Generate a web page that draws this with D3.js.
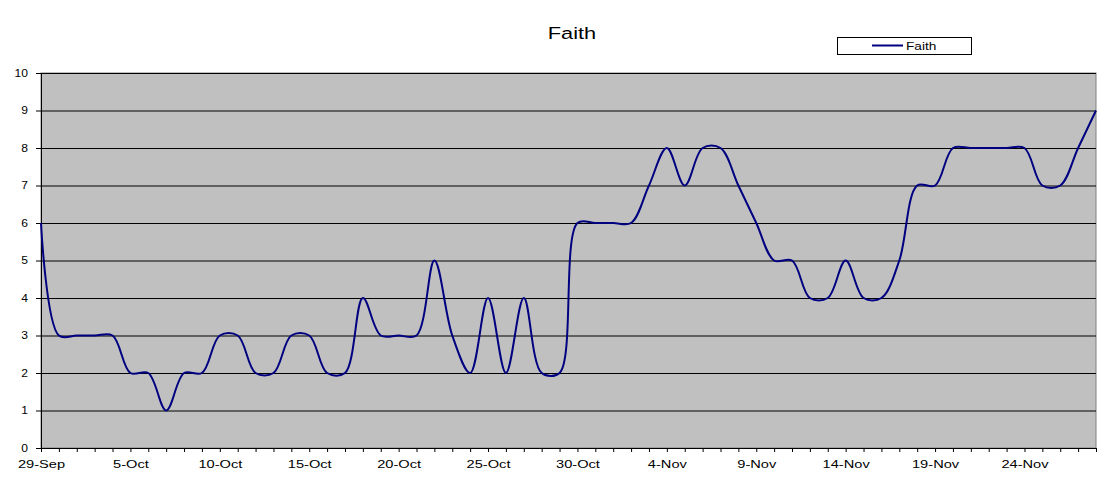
<!DOCTYPE html>
<html>
<head>
<meta charset="utf-8">
<script src="https://cdn.jsdelivr.net/npm/d3@7"></script>
<style>
  body { margin: 0; background: #fff; }
  text { font-family: "Liberation Sans", Arial, sans-serif; fill: #000; }
</style>
</head>
<body>
<svg id="chart"></svg>
<script>
// category dates (one point per day, 30-Sep missing in the source sheet)
const dates = [
  "29-Sep", "1-Oct", "2-Oct", "3-Oct", "4-Oct", "5-Oct", "6-Oct", "7-Oct", "8-Oct", "9-Oct",
  "10-Oct", "11-Oct", "12-Oct", "13-Oct", "14-Oct", "15-Oct", "16-Oct", "17-Oct", "18-Oct", "19-Oct",
  "20-Oct", "21-Oct", "22-Oct", "23-Oct", "24-Oct", "25-Oct", "26-Oct", "27-Oct", "28-Oct", "29-Oct",
  "30-Oct", "31-Oct", "1-Nov", "2-Nov", "3-Nov", "4-Nov", "5-Nov", "6-Nov", "7-Nov", "8-Nov",
  "9-Nov", "10-Nov", "11-Nov", "12-Nov", "13-Nov", "14-Nov", "15-Nov", "16-Nov", "17-Nov", "18-Nov",
  "19-Nov", "20-Nov", "21-Nov", "22-Nov", "23-Nov", "24-Nov", "25-Nov", "26-Nov", "27-Nov", "28-Nov"
];

const faith = [
  6, 3, 3, 3, 3, 2, 2, 1, 2, 2,
  3, 3, 2, 2, 3, 3, 2, 2, 4, 3,
  3, 3, 5, 3, 2, 4, 2, 4, 2, 2,
  6, 6, 6, 6, 7, 8, 7, 8, 8, 7,
  6, 5, 5, 4, 4, 5, 4, 4, 5, 7,
  7, 8, 8, 8, 8, 8, 7, 7, 8, 9
];

const yTicks = [0, 1, 2, 3, 4, 5, 6, 7, 8, 9, 10];

const seriesName = "Faith";
const chartTitle = "Faith";

const width = 1113, height = 483;
const margin = { left: 41, right: 17, top: 73, bottom: 35 };

const svg = d3.select("#chart").attr("width", width).attr("height", height);

const x = d3.scalePoint().domain(dates).range([margin.left, width - margin.right]);
const y = d3.scaleLinear().domain([0, 10]).range([height - margin.bottom, margin.top]);

const plotW = width - margin.right - margin.left;
const plotH = height - margin.bottom - margin.top;

// plot area
svg.append("rect")
  .attr("x", margin.left).attr("y", margin.top)
  .attr("width", plotW).attr("height", plotH)
  .attr("fill", "#c0c0c0")
  .attr("stroke", "#808080")
  .attr("stroke-width", 1);

// gridlines
const grid = svg.append("g")
  .attr("transform", `translate(${margin.left},0)`)
  .call(d3.axisLeft(y).tickValues(yTicks).tickSize(-plotW).tickFormat(""));
grid.select(".domain").remove();
grid.selectAll("line").attr("stroke", "#000").attr("stroke-width", 1);

// text in the source image is stretched sideways
function stretch(sel, sx) {
  sel.each(function () {
    const t = d3.select(this);
    const tx = +t.attr("x") || 0;
    const ty = +t.attr("y") || 0;
    t.attr("x", 0).attr("y", 0)
      .attr("transform", `translate(${tx},${ty}) scale(${sx},1)`);
  });
}

// y axis
const yAxis = svg.append("g")
  .attr("transform", `translate(${margin.left},0)`)
  .call(d3.axisLeft(y).tickValues(yTicks).tickSize(5).tickPadding(8));
yAxis.select(".domain").attr("stroke", "#000");
yAxis.selectAll("text").style("font-size", "10.5px").attr("fill", "#000");
stretch(yAxis.selectAll("text"), 1.15);

// x axis
const xAxis = svg.append("g")
  .attr("transform", `translate(0,${height - margin.bottom})`)
  .call(d3.axisBottom(x).tickSize(4).tickPadding(8)
    .tickFormat((d, i) => (i % 5 === 0 ? d : "")));
xAxis.select(".domain").attr("stroke", "#000");
xAxis.selectAll("text").style("font-size", "11px").attr("fill", "#000");
stretch(xAxis.selectAll("text"), 1.33);

// series line (smoothed like the spreadsheet)
const line = d3.line()
  .x((d, i) => x(dates[i]))
  .y(d => y(d))
  .curve(d3.curveCatmullRom.alpha(0.5));

svg.append("path")
  .attr("d", line(faith))
  .attr("fill", "none")
  .attr("stroke", "#000080")
  .attr("stroke-width", 2);

// title
svg.append("text")
  .attr("transform", "translate(572,39) scale(1.32,1)")
  .attr("text-anchor", "middle")
  .style("font-size", "16.5px")
  .text(chartTitle);

// legend
const legend = svg.append("g").attr("transform", "translate(837,37)");
legend.append("rect")
  .attr("x", 0.5).attr("y", 0.5)
  .attr("width", 134).attr("height", 17)
  .attr("fill", "#fff").attr("stroke", "#000");
legend.append("line")
  .attr("x1", 35).attr("x2", 66)
  .attr("y1", 8.5).attr("y2", 8.5)
  .attr("stroke", "#000080").attr("stroke-width", 2);
legend.append("text")
  .attr("transform", "translate(69,12.5) scale(1.3,1)")
  .style("font-size", "10.5px")
  .text(seriesName);
</script>
</body>
</html>
